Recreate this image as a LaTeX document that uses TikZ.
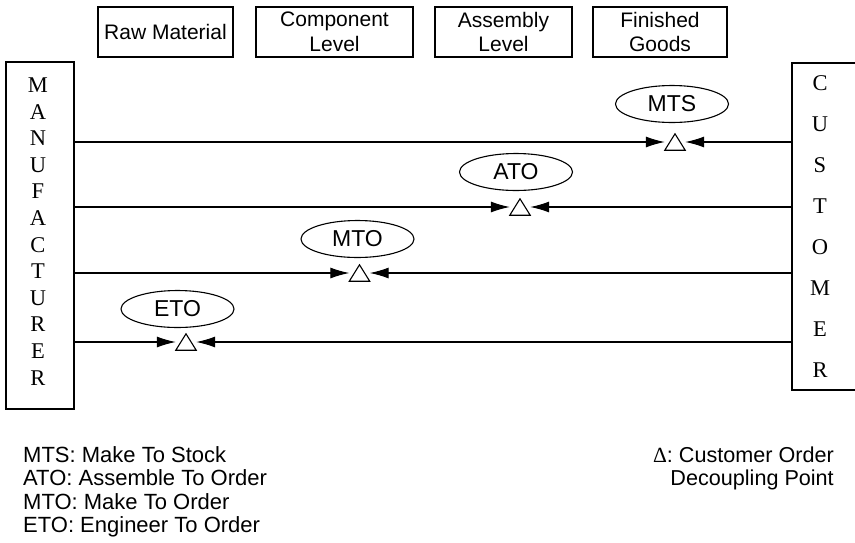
\documentclass[tikz,border=0pt]{standalone}
\usepackage{fontspec}
\setmainfont{Liberation Sans}
\newfontfamily\serifnames{Liberation Serif}
\usetikzlibrary{shapes.geometric,arrows.meta}
\begin{document}
\begin{tikzpicture}[x=1pt,y=-1pt,
  every node/.style={font=\fontsize{21}{24.5}\selectfont},
  topbox/.style={draw,line width=1.2pt,minimum height=50pt,inner sep=0pt,align=center},
  sidebox/.style={draw,line width=1.2pt,inner sep=0pt},
  sideletters/.style={align=center,inner sep=0pt,font=\serifnames\fontsize{22.5}{26.6}\selectfont},
  oval/.style={draw,ellipse,line width=1.1pt,minimum width=113pt,minimum height=37pt,inner sep=0pt,font=\fontsize{23}{26}\selectfont},
  tri/.style={minimum width=20pt,minimum height=16pt,inner sep=0pt},
  flow/.style={line width=1.1pt,-{Latex[length=19pt,width=11pt]}},
  legend/.style={anchor=base west,inner sep=0pt,font=\fontsize{22}{26}\selectfont},
  legendr/.style={anchor=base east,inner sep=0pt,font=\fontsize{21.6}{26}\selectfont}]
\useasboundingbox (0,0) rectangle (855,542);

% top level boxes
\node[topbox,minimum width=135pt] (raw) at (165.5,32) {Raw Material};
\node[topbox,minimum width=157pt] (comp) at (334.5,32) {Component\\Level};
\node[topbox,minimum width=137pt] (asm) at (503.5,32) {Assembly\\Level};
\node[topbox,minimum width=134pt] (fin) at (660,32) {Finished\\Goods};

% side boxes
\node[sidebox,minimum width=68pt,minimum height=347pt] (man) at (40,235.5) {};
\node[sideletters] (manl) at (38,231.5) {M\\A\\N\\U\\F\\A\\C\\T\\U\\R\\E\\R};
\node[sidebox,minimum width=68pt,minimum height=327pt] (cus) at (826,226.5) {};
\node[sideletters,font=\serifnames\fontsize{22.5}{41}\selectfont] (cusl) at (820,226.5) {C\\U\\S\\T\\O\\M\\E\\R};

% decoupling point triangles
\node[tri] (t1) at (675,142) {};
\node[tri] (t2) at (520,207) {};
\node[tri] (t3) at (359.5,273) {};
\node[tri] (t4) at (186,342) {};
\foreach \t in {t1,t2,t3,t4}{
  \draw[line width=1.1pt,line join=miter] (\t.north) -- (\t.south east) -- (\t.south west) -- cycle;
}

% strategy ellipses
\node[oval] (mts) at (672,104) {MTS};
\node[oval] (ato) at (516,172) {ATO};
\node[oval] (mto) at (357.5,239) {MTO};
\node[oval] (eto) at (177.5,309) {ETO};

% flows
\foreach \t in {t1,t2,t3,t4}{
  \draw[flow] (man.east |- \t.west) -- (\t.west);
  \draw[flow] (cus.west |- \t.east) -- (\t.east);
}

% legend
\node[legend] (l1) at (23,462) {MTS: Make To Stock};
\node[legend] (l2) at (23,485.5) {ATO: Assemble To Order};
\node[legend] (l3) at (23,509) {MTO: Make To Order};
\node[legend] (l4) at (23,532.5) {ETO: Engineer To Order};
\node[legendr] (r1) at (834,462) {{\serifnames\char"0394}: Customer Order};
\node[legendr] (r2) at (834,485.5) {Decoupling Point};
\end{tikzpicture}
\end{document}
